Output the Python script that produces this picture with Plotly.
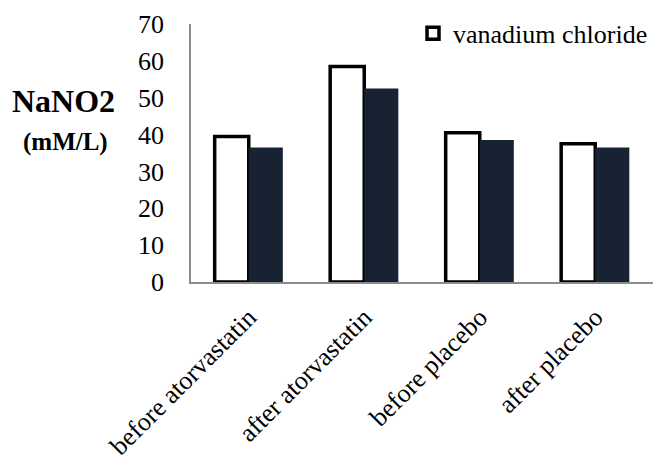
import plotly.graph_objects as go

categories = ["before atorvastatin", "after atorvastatin", "before placebo", "after placebo"]
vanadium = [39.5, 58.5, 40.5, 37.5]
other = [36.5, 52.5, 38.5, 36.5]
y_ticks = [0, 10, 20, 30, 40, 50, 60, 70]

SERIF = "Liberation Serif"

fig = go.Figure()
fig.add_trace(go.Bar(x=categories, y=vanadium, name="vanadium chloride",
                     marker=dict(color="white", line=dict(color="black", width=3.5))))
fig.add_trace(go.Bar(x=categories, y=other, name="", showlegend=False,
                     marker=dict(color="#172233", line=dict(width=0))))

fig.update_layout(
    width=655, height=462,
    margin=dict(l=191, r=2, t=24, b=180),
    paper_bgcolor="white", plot_bgcolor="white",
    font=dict(family=SERIF, color="black"),
    barmode="group", bargap=0.41, bargroupgap=0,
    legend=dict(x=1.0, xanchor="right", y=1.055, yanchor="top",
                font=dict(family=SERIF, size=26), bgcolor="rgba(0,0,0,0)",
                itemwidth=30),
    xaxis=dict(showline=True, linecolor="#8c8c8c", linewidth=1.5, automargin=False,
               tickangle=-45, tickfont=dict(family=SERIF, size=26), ticks="",
               ticklabelstandoff=8),
    yaxis=dict(range=[0, 70], tickvals=y_ticks, showgrid=False, zeroline=False,
               showline=True, linecolor="#8c8c8c", linewidth=1.5, automargin=False,
               tickfont=dict(family=SERIF, size=26), ticks="", ticklabelstandoff=20),
)
fig.add_annotation(text="<b>NaNO2</b>", xref="paper", yref="paper",
                   x=-0.275, y=0.70, xanchor="center", yanchor="middle",
                   showarrow=False, font=dict(family=SERIF, size=32))
fig.add_annotation(text="<b>(mM/L)</b>", xref="paper", yref="paper",
                   x=-0.272, y=0.543, xanchor="center", yanchor="middle",
                   showarrow=False, font=dict(family=SERIF, size=25))
fig.write_html("out.html", config={"displayModeBar": False},
               post_script="document.body.style.margin='0';document.body.style.overflow='hidden';")
